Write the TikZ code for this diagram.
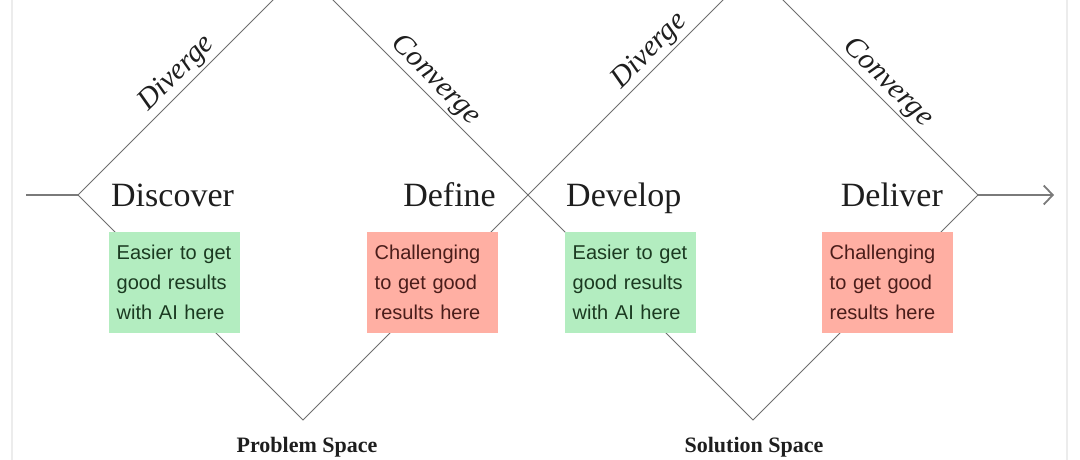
\documentclass[tikz,border=0pt]{standalone}
\usepackage{fontspec}
\setmainfont{Liberation Serif}
\setsansfont{Liberation Sans}
\usetikzlibrary{arrows.meta}
\definecolor{edgegray}{HTML}{6E6E6E}
\definecolor{flowgray}{HTML}{7A7A7A}
\definecolor{greenfill}{HTML}{B3EDC0}
\definecolor{redfill}{HTML}{FFAFA3}
\definecolor{greentext}{HTML}{1B3A21}
\definecolor{redtext}{HTML}{4A1D1A}
\definecolor{ink}{HTML}{1E1E1E}
\definecolor{framegray}{HTML}{ECECEC}
\begin{document}
\begin{tikzpicture}[x=1pt,y=-1pt,
  edge/.style={draw=edgegray, line width=0.9pt},
  flow/.style={draw=flowgray, line width=1.8pt},
  phase/.style={font=\fontsize{34}{40}\selectfont, text=ink, inner sep=0pt},
  mode/.style={font=\fontsize{29.5}{32}\selectfont\itshape, text=ink, sloped, above, inner sep=2.5pt},
  note/.style={anchor=north west, minimum width=131pt, minimum height=101pt, text width=116pt,
    inner xsep=7.5pt, inner ysep=0pt, align=left, font=\sffamily\fontsize{20}{30}\selectfont},
  goodnote/.style={note, fill=greenfill, text=greentext},
  hardnote/.style={note, fill=redfill, text=redtext},
  space/.style={font=\bfseries\fontsize{22}{26}\selectfont, text=ink, anchor=base}
]
\useasboundingbox (0,0) rectangle (1080,460);
% canvas frame edges
\draw[framegray, line width=1.5pt] (12,0) -- (12,460);
\draw[framegray, line width=1.5pt] (1067,0) -- (1067,460);

% diamond vertices
\coordinate (start) at (26,195);
\coordinate (L1) at (78,195);
\coordinate (T1) at (303,-30);
\coordinate (M) at (528,195);
\coordinate (B1) at (303,420);
\coordinate (T2) at (753,-30);
\coordinate (R2) at (978,195);
\coordinate (B2) at (753,420);
\coordinate (end) at (1054,195);

% diamonds
\draw[edge] (L1) -- (T1) -- (M) -- (B1) -- cycle;
\draw[edge] (M) -- (T2) -- (R2) -- (B2) -- cycle;

% flow in / out
\draw[flow] (start) -- (L1);
\draw[flow, -{Straight Barb[length=9pt, width=19pt]}] (R2) -- (end);

% diverge / converge labels
\path (L1) -- node[mode, pos=0.49] (dv1) {Diverge} (T1);
\path (T1) -- node[mode, pos=0.54] (cv1) {Converge} (M);
\path (M) -- node[mode, pos=0.59] (dv2) {Diverge} (T2);
\path (T2) -- node[mode, pos=0.55] (cv2) {Converge} (R2);

% phase labels
\node[phase, anchor=base west] (discover) at (111,206) {Discover};
\node[phase, anchor=base east] (define) at (496,206) {Define};
\node[phase, anchor=base west] (develop) at (566,206) {Develop};
\node[phase, anchor=base east] (deliver) at (943,206) {Deliver};

% notes
\node[goodnote] (n1) at (109,232) {Easier to get\\good results\\with AI here};
\node[hardnote] (n2) at (367,232) {Challenging\\to get good\\results here};
\node[goodnote] (n3) at (565,232) {Easier to get\\good results\\with AI here};
\node[hardnote] (n4) at (822,232) {Challenging\\to get good\\results here};

% space captions
\node[space] (ps) at (307,452) {Problem Space};
\node[space] (ss) at (754,452) {Solution Space};
\end{tikzpicture}
\end{document}
